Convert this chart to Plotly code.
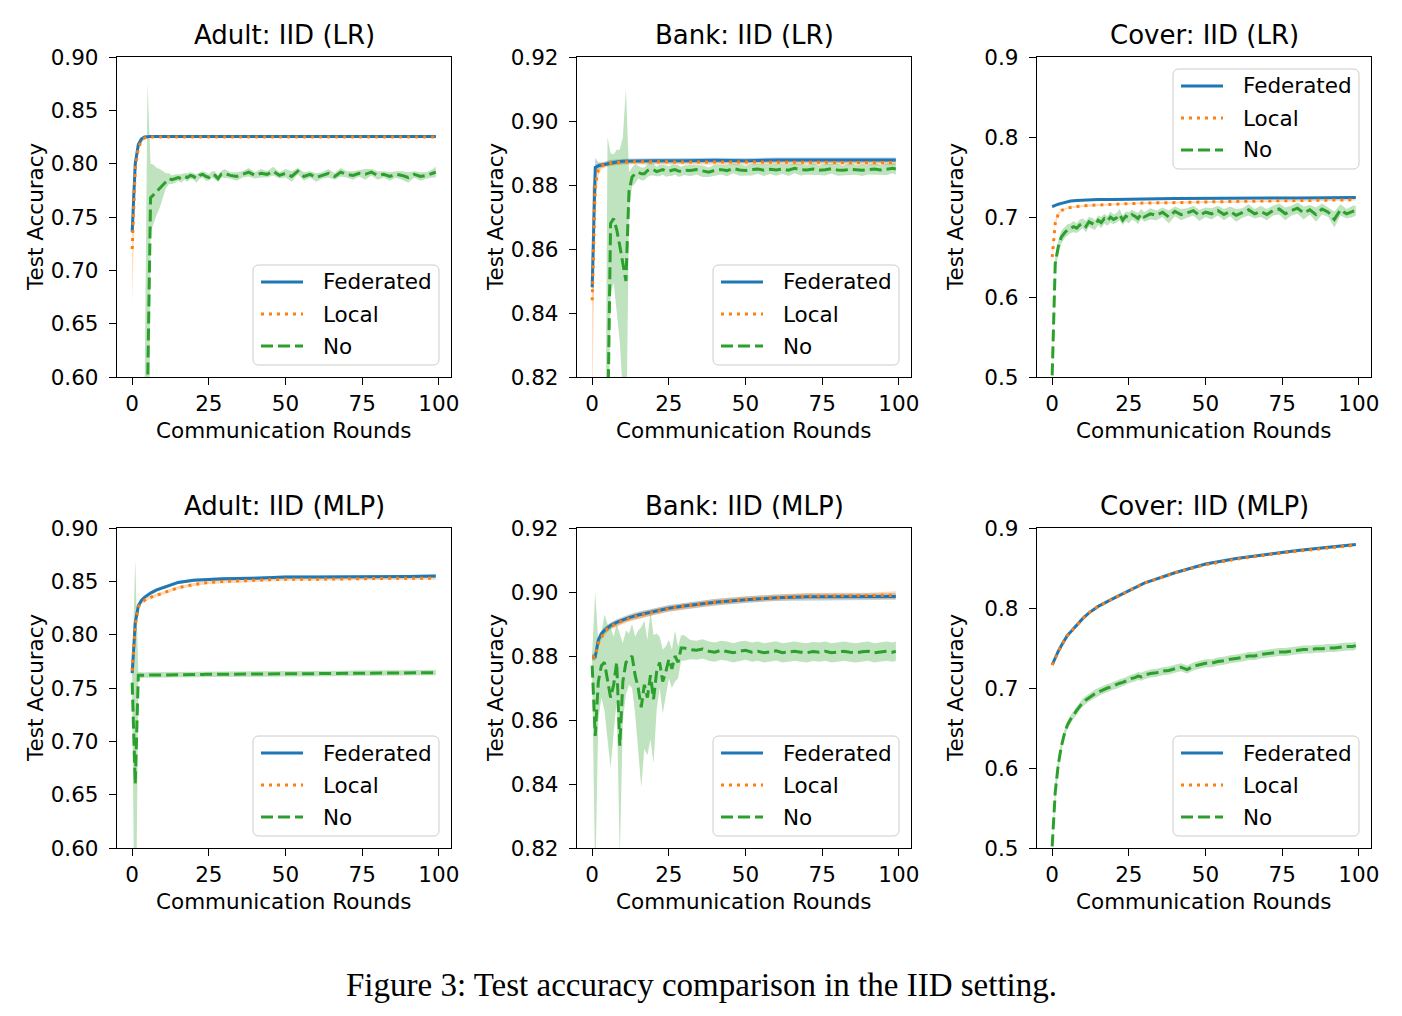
import plotly.graph_objects as go

# ---------------- data ----------------
FL_ROUNDS = [0, 1, 2, 3, 4, 5, 6, 8, 10, 12, 15, 20, 25, 30, 40, 50, 60, 70, 80, 90, 99]
NO_ROUNDS = list(range(0, 30)) + list(range(30, 99, 2)) + [99]
X_TICKS = [0, 25, 50, 75, 100]

TITLES = ["Adult: IID (LR)", "Bank: IID (LR)", "Cover: IID (LR)",
          "Adult: IID (MLP)", "Bank: IID (MLP)", "Cover: IID (MLP)"]
SERIES_NAMES = ["Federated", "Local", "No"]

# Adult LR
ADULT_LR_FED = [0.736, 0.800, 0.818, 0.823, 0.825, 0.8255, 0.8255, 0.8255, 0.8255, 0.8255, 0.8255,
                0.8255, 0.826, 0.8255, 0.8255, 0.8255, 0.8255, 0.826, 0.8255, 0.8255, 0.8255]
ADULT_LR_FED_SD = [0.004, 0.003, 0.002, 0.001, 0.001, 0.001, 0.001, 0.001, 0.001, 0.001, 0.001,
                   0.001, 0.001, 0.001, 0.001, 0.001, 0.001, 0.001, 0.001, 0.001, 0.001]
ADULT_LR_LOC = [0.720, 0.795, 0.815, 0.821, 0.824, 0.825, 0.825, 0.825, 0.825, 0.825, 0.825,
                0.825, 0.825, 0.825, 0.825, 0.825, 0.825, 0.825, 0.825, 0.825, 0.825]
ADULT_LR_LOC_SD = [0.05, 0.01, 0.003, 0.002, 0.001, 0.001, 0.001, 0.001, 0.001, 0.001, 0.001,
                   0.001, 0.001, 0.001, 0.001, 0.001, 0.001, 0.001, 0.001, 0.001, 0.001]
ADULT_LR_NO = [0.30, 0.32, 0.35, 0.40, 0.45, 0.585, 0.768, 0.771, 0.774, 0.777,
               0.780, 0.784, 0.786, 0.785, 0.786, 0.787, 0.786, 0.788, 0.787, 0.789,
               0.788, 0.786, 0.789, 0.790, 0.788, 0.787, 0.790, 0.789, 0.786, 0.790,
               0.791, 0.789, 0.788, 0.790, 0.792, 0.789, 0.791, 0.790, 0.793, 0.789,
               0.791, 0.788, 0.793, 0.788, 0.790, 0.787, 0.789, 0.791, 0.788, 0.792,
               0.790, 0.789, 0.791, 0.790, 0.792, 0.789, 0.790, 0.788, 0.790, 0.789,
               0.787, 0.790, 0.788, 0.789, 0.791, 0.792]
ADULT_LR_NO_SD = [0.10, 0.10, 0.10, 0.10, 0.12, 0.29, 0.032, 0.028, 0.022, 0.018,
                  0.013, 0.007, 0.005, 0.004, 0.004, 0.003, 0.004, 0.003, 0.004, 0.003,
                  0.003, 0.004, 0.003, 0.003, 0.004, 0.003, 0.003, 0.004, 0.003, 0.003,
                  0.004, 0.003, 0.004, 0.003, 0.004, 0.003, 0.004, 0.003, 0.004, 0.003,
                  0.004, 0.005, 0.003, 0.004, 0.003, 0.004, 0.003, 0.004, 0.003, 0.004,
                  0.003, 0.004, 0.003, 0.005, 0.003, 0.004, 0.003, 0.004, 0.003, 0.004,
                  0.005, 0.003, 0.004, 0.003, 0.004, 0.005]

# Bank LR
BANK_LR_FED = [0.848, 0.8855, 0.886, 0.8862, 0.8865, 0.8868, 0.887, 0.8872, 0.8874, 0.8875, 0.8875,
               0.8876, 0.8875, 0.8876, 0.8877, 0.8876, 0.8878, 0.8878, 0.8877, 0.8877, 0.8878]
BANK_LR_FED_SD = [0.006, 0.003, 0.001, 0.0008, 0.0008, 0.0008, 0.0008, 0.0008, 0.0008, 0.0008, 0.0008,
                  0.0008, 0.0008, 0.0008, 0.0008, 0.0008, 0.0008, 0.0008, 0.0008, 0.0008, 0.0008]
BANK_LR_LOC = [0.844, 0.8795, 0.885, 0.886, 0.8863, 0.8866, 0.8868, 0.887, 0.8872, 0.8873, 0.8873,
               0.8872, 0.8872, 0.8872, 0.8872, 0.8872, 0.8871, 0.8871, 0.8871, 0.8871, 0.887]
BANK_LR_LOC_SD = [0.035, 0.006, 0.002, 0.001, 0.0008, 0.0008, 0.0008, 0.0008, 0.0008, 0.0008, 0.0008,
                  0.0008, 0.0008, 0.0008, 0.0008, 0.0008, 0.0008, 0.0008, 0.0008, 0.0008, 0.0008]
BANK_LR_NO = [0.50, 0.55, 0.60, 0.65, 0.70, 0.80, 0.868, 0.8695, 0.866, 0.861,
              0.855, 0.850, 0.878, 0.8825, 0.8835, 0.884, 0.8835, 0.8835, 0.8845, 0.885,
              0.8848, 0.8842, 0.8845, 0.8848, 0.8844, 0.8843, 0.8846, 0.8848, 0.8844, 0.8842,
              0.8846, 0.8845, 0.8848, 0.8843, 0.8840, 0.8846, 0.8848, 0.8845, 0.8852, 0.8847,
              0.8845, 0.8848, 0.8850, 0.8846, 0.8849, 0.8847, 0.8850, 0.8846, 0.8852, 0.8848,
              0.8847, 0.8850, 0.8846, 0.8848, 0.8851, 0.8847, 0.8846, 0.8849, 0.8847, 0.8846,
              0.8848, 0.8850, 0.8847, 0.8849, 0.8852, 0.8850]
BANK_LR_NO_SD = [0.05, 0.05, 0.05, 0.05, 0.05, 0.095, 0.022, 0.02, 0.025, 0.03,
                 0.04, 0.06, 0.006, 0.003, 0.003, 0.002, 0.002, 0.002, 0.002, 0.002,
                 0.0018, 0.0015, 0.0018, 0.0015, 0.0018, 0.0015, 0.0018, 0.0015, 0.0018, 0.0015,
                 0.0015, 0.0018, 0.0015, 0.0018, 0.0015, 0.0018, 0.0015, 0.0018, 0.0015, 0.0018,
                 0.0015, 0.0018, 0.0015, 0.0018, 0.0015, 0.0018, 0.0015, 0.0018, 0.0015, 0.0018,
                 0.0015, 0.0018, 0.0015, 0.0018, 0.0015, 0.0018, 0.0015, 0.0018, 0.0015, 0.0018,
                 0.0015, 0.0018, 0.0015, 0.0018, 0.0015, 0.0018]

# Cover LR
COVER_LR_FED = [0.713, 0.715, 0.716, 0.717, 0.718, 0.719, 0.720, 0.7205, 0.721, 0.7215, 0.722,
                0.722, 0.7225, 0.7225, 0.723, 0.723, 0.7235, 0.7235, 0.7238, 0.724, 0.7245]
COVER_LR_FED_SD = [0.002, 0.0015, 0.0012, 0.001, 0.001, 0.001, 0.001, 0.001, 0.001, 0.001, 0.001,
                   0.001, 0.001, 0.001, 0.001, 0.001, 0.001, 0.001, 0.001, 0.001, 0.001]
COVER_LR_LOC = [0.650, 0.692, 0.704, 0.708, 0.710, 0.711, 0.712, 0.713, 0.714, 0.7145, 0.715,
                0.716, 0.717, 0.7175, 0.718, 0.719, 0.7195, 0.720, 0.7205, 0.721, 0.7215]
COVER_LR_LOC_SD = [0.004, 0.003, 0.002, 0.001, 0.001, 0.001, 0.001, 0.001, 0.001, 0.001, 0.001,
                   0.001, 0.001, 0.001, 0.001, 0.001, 0.001, 0.001, 0.001, 0.001, 0.001]
COVER_LR_NO = [0.502, 0.642, 0.663, 0.675, 0.680, 0.684, 0.686, 0.688, 0.686, 0.690,
               0.692, 0.688, 0.694, 0.692, 0.690, 0.696, 0.693, 0.698, 0.695, 0.700,
               0.697, 0.699, 0.703, 0.696, 0.701, 0.699, 0.703, 0.701, 0.698, 0.704,
               0.700, 0.704, 0.702, 0.706, 0.700, 0.707, 0.703, 0.705, 0.708, 0.702,
               0.706, 0.704, 0.708, 0.703, 0.707, 0.702, 0.705, 0.709, 0.704, 0.707,
               0.703, 0.708, 0.710, 0.704, 0.708, 0.711, 0.705, 0.709, 0.703, 0.710,
               0.706, 0.697, 0.709, 0.704, 0.707, 0.708]
COVER_LR_NO_SD = [0.005, 0.010, 0.008, 0.008, 0.007, 0.007, 0.006, 0.007, 0.006, 0.007,
                  0.006, 0.007, 0.006, 0.007, 0.006, 0.006, 0.007, 0.006, 0.006, 0.007,
                  0.006, 0.006, 0.007, 0.006, 0.006, 0.007, 0.006, 0.006, 0.007, 0.006,
                  0.006, 0.007, 0.006, 0.006, 0.008, 0.006, 0.007, 0.006, 0.006, 0.007,
                  0.006, 0.007, 0.006, 0.007, 0.006, 0.008, 0.006, 0.007, 0.006, 0.007,
                  0.007, 0.006, 0.007, 0.008, 0.006, 0.007, 0.008, 0.006, 0.009, 0.007,
                  0.006, 0.010, 0.007, 0.006, 0.007, 0.006]

# Adult MLP
ADULT_MLP_FED = [0.764, 0.811, 0.827, 0.832, 0.835, 0.837, 0.839, 0.842, 0.844, 0.846, 0.849,
                 0.851, 0.852, 0.8525, 0.853, 0.854, 0.854, 0.854, 0.8545, 0.8545, 0.855]
ADULT_MLP_FED_SD = [0.003, 0.002, 0.0015, 0.0015, 0.0015, 0.0015, 0.0015, 0.0015, 0.0015, 0.0015, 0.0015,
                    0.0015, 0.0015, 0.0015, 0.0015, 0.0015, 0.0015, 0.0015, 0.0015, 0.0015, 0.0015]
ADULT_MLP_LOC = [0.766, 0.808, 0.826, 0.830, 0.832, 0.834, 0.835, 0.837, 0.839, 0.841, 0.844,
                 0.847, 0.849, 0.850, 0.851, 0.852, 0.852, 0.8525, 0.8525, 0.853, 0.853]
ADULT_MLP_LOC_SD = [0.003, 0.002, 0.0015, 0.0015, 0.0015, 0.0015, 0.0015, 0.0015, 0.0015, 0.0015, 0.0015,
                    0.0015, 0.0015, 0.0015, 0.0015, 0.0015, 0.0015, 0.0015, 0.0015, 0.0015, 0.0015]
ADULT_MLP_NO = [0.755, 0.660, 0.762, 0.762, 0.762, 0.7622, 0.7622, 0.7622, 0.7623, 0.7623,
                0.7623, 0.7624, 0.7624, 0.7624, 0.7625, 0.7625, 0.7625, 0.7626, 0.7626, 0.7626,
                0.7626, 0.7627, 0.7627, 0.7627, 0.7628, 0.7628, 0.7628, 0.7628, 0.7629, 0.7629,
                0.7629, 0.7630, 0.7630, 0.7630, 0.7631, 0.7631, 0.7632, 0.7632, 0.7632, 0.7633,
                0.7633, 0.7633, 0.7634, 0.7634, 0.7635, 0.7635, 0.7635, 0.7636, 0.7636, 0.7637,
                0.7637, 0.7638, 0.7638, 0.7639, 0.7639, 0.7640, 0.7640, 0.7640, 0.7641, 0.7641,
                0.7642, 0.7642, 0.7643, 0.7643, 0.7644, 0.7644]
ADULT_MLP_NO_SD = [0.010, 0.21, 0.003, 0.0025, 0.0025, 0.0025, 0.0025, 0.0025, 0.0025, 0.0025,
                   0.0025, 0.0025, 0.0025, 0.0025, 0.0025, 0.0025, 0.0025, 0.0025, 0.0025, 0.0025,
                   0.0025, 0.0025, 0.0025, 0.0025, 0.0025, 0.0025, 0.0025, 0.0025, 0.0025, 0.0025,
                   0.0025, 0.0025, 0.0025, 0.0025, 0.0025, 0.0025, 0.0025, 0.0025, 0.0025, 0.0025,
                   0.0025, 0.0025, 0.0025, 0.0025, 0.0025, 0.0025, 0.0025, 0.0025, 0.0025, 0.0025,
                   0.0025, 0.0025, 0.0025, 0.0025, 0.0025, 0.0025, 0.0025, 0.0025, 0.0025, 0.0025,
                   0.0025, 0.0025, 0.0025, 0.0025, 0.0025, 0.0025]

# Bank MLP
BANK_MLP_FED = [0.8796, 0.8797, 0.885, 0.887, 0.888, 0.8888, 0.8895, 0.8905, 0.8913, 0.892, 0.8928,
                0.8938, 0.8949, 0.8956, 0.8968, 0.8976, 0.8982, 0.8985, 0.8985, 0.8985, 0.8986]
BANK_MLP_FED_SD = [0.001, 0.001, 0.001, 0.001, 0.001, 0.001, 0.001, 0.001, 0.001, 0.001, 0.001,
                   0.001, 0.001, 0.001, 0.001, 0.001, 0.001, 0.001, 0.001, 0.001, 0.001]
BANK_MLP_LOC = [0.8796, 0.8797, 0.884, 0.886, 0.8875, 0.8885, 0.8892, 0.8902, 0.891, 0.8917, 0.8926,
                0.8937, 0.8948, 0.8955, 0.8968, 0.8977, 0.8983, 0.8987, 0.8988, 0.8988, 0.899]
BANK_MLP_LOC_SD = [0.001, 0.001, 0.001, 0.001, 0.001, 0.001, 0.001, 0.001, 0.001, 0.001, 0.001,
                   0.001, 0.001, 0.001, 0.001, 0.001, 0.001, 0.001, 0.001, 0.001, 0.0012]
BANK_MLP_NO = [0.877, 0.855, 0.872, 0.877, 0.878, 0.872, 0.867, 0.871, 0.878, 0.852,
               0.872, 0.878, 0.879, 0.880, 0.874, 0.870, 0.864, 0.871, 0.867, 0.874,
               0.8665, 0.875, 0.878, 0.872, 0.875, 0.879, 0.876, 0.880, 0.878, 0.8825,
               0.8825, 0.882, 0.8818, 0.8822, 0.8815, 0.8812, 0.8818, 0.8815, 0.881, 0.8815,
               0.8818, 0.8812, 0.8815, 0.881, 0.8813, 0.8816, 0.881, 0.8812, 0.8815, 0.8812,
               0.881, 0.8814, 0.8812, 0.8815, 0.881, 0.8812, 0.8815, 0.8812, 0.881, 0.8813,
               0.8815, 0.881, 0.8812, 0.8815, 0.8812, 0.8815]
BANK_MLP_NO_SD = [0.004, 0.045, 0.012, 0.010, 0.015, 0.018, 0.022, 0.015, 0.012, 0.035,
                  0.012, 0.010, 0.008, 0.010, 0.012, 0.018, 0.025, 0.020, 0.018, 0.020,
                  0.020, 0.012, 0.008, 0.010, 0.008, 0.006, 0.006, 0.008, 0.005, 0.004,
                  0.004, 0.003, 0.003, 0.003, 0.003, 0.003, 0.003, 0.003, 0.003, 0.003,
                  0.003, 0.003, 0.003, 0.003, 0.003, 0.003, 0.003, 0.003, 0.003, 0.003,
                  0.003, 0.003, 0.003, 0.003, 0.003, 0.003, 0.003, 0.003, 0.003, 0.003,
                  0.003, 0.003, 0.003, 0.003, 0.003, 0.003]

# Cover MLP
COVER_MLP_FED = [0.729, 0.738, 0.746, 0.753, 0.760, 0.766, 0.770, 0.779, 0.787, 0.794, 0.802,
                 0.812, 0.822, 0.831, 0.844, 0.855, 0.862, 0.867, 0.872, 0.876, 0.8795]
COVER_MLP_FED_SD = [0.001, 0.001, 0.001, 0.001, 0.001, 0.001, 0.001, 0.001, 0.001, 0.001, 0.001,
                    0.001, 0.001, 0.001, 0.001, 0.001, 0.001, 0.001, 0.001, 0.001, 0.001]
COVER_MLP_LOC = [0.729, 0.738, 0.746, 0.753, 0.760, 0.766, 0.770, 0.779, 0.787, 0.794, 0.802,
                 0.812, 0.822, 0.831, 0.844, 0.854, 0.861, 0.8665, 0.871, 0.875, 0.8785]
COVER_MLP_LOC_SD = [0.001, 0.001, 0.001, 0.001, 0.001, 0.001, 0.001, 0.001, 0.001, 0.001, 0.001,
                    0.001, 0.001, 0.001, 0.001, 0.001, 0.001, 0.001, 0.001, 0.001, 0.001]
COVER_MLP_NO = [0.502, 0.570, 0.605, 0.627, 0.643, 0.654, 0.661, 0.667, 0.672, 0.677,
                0.682, 0.685, 0.688, 0.690, 0.693, 0.695, 0.697, 0.698, 0.700, 0.701,
                0.703, 0.704, 0.706, 0.707, 0.709, 0.711, 0.712, 0.713, 0.715, 0.714,
                0.716, 0.718, 0.719, 0.721, 0.722, 0.724, 0.726, 0.723, 0.727, 0.729,
                0.731, 0.731, 0.733, 0.734, 0.736, 0.737, 0.738, 0.740, 0.740, 0.742,
                0.743, 0.744, 0.745, 0.745, 0.746, 0.747, 0.748, 0.748, 0.749, 0.749,
                0.750, 0.750, 0.751, 0.752, 0.752, 0.753]
COVER_MLP_NO_SD = [0.005, 0.012, 0.008, 0.006, 0.005, 0.005, 0.005, 0.005, 0.005, 0.005,
                   0.005, 0.005, 0.005, 0.005, 0.005, 0.005, 0.005, 0.005, 0.005, 0.005,
                   0.005, 0.005, 0.005, 0.005, 0.005, 0.005, 0.005, 0.005, 0.005, 0.005,
                   0.005, 0.005, 0.005, 0.005, 0.005, 0.005, 0.005, 0.005, 0.005, 0.005,
                   0.005, 0.005, 0.005, 0.005, 0.005, 0.005, 0.005, 0.005, 0.005, 0.005,
                   0.005, 0.005, 0.005, 0.005, 0.005, 0.005, 0.005, 0.005, 0.005, 0.005,
                   0.005, 0.005, 0.005, 0.005, 0.005, 0.005]

Y_TICKS_ADULT = [0.60, 0.65, 0.70, 0.75, 0.80, 0.85, 0.90]
Y_TICKS_BANK = [0.82, 0.84, 0.86, 0.88, 0.90, 0.92]
Y_TICKS_COVER = [0.5, 0.6, 0.7, 0.8, 0.9]

# ---------------- layout helpers ----------------
W, H = 1402, 1016
COLS = [(117, 451), (577, 911), (1037, 1371)]
ROWS = [(57, 377), (528, 848)]
BLUE, ORANGE, GREEN = "#1f77b4", "#ff7f0e", "#2ca02c"
FONT = "DejaVu Sans"
FS = 21.5
LINE_STYLES = [dict(color=BLUE, width=3),
               dict(color=ORANGE, width=3, dash="3px,5px"),
               dict(color=GREEN, width=3, dash="12px,5px")]

panels = [
    (ADULT_LR_FED, ADULT_LR_FED_SD, ADULT_LR_LOC, ADULT_LR_LOC_SD, ADULT_LR_NO, ADULT_LR_NO_SD,
     Y_TICKS_ADULT, "%.2f", "bottom"),
    (BANK_LR_FED, BANK_LR_FED_SD, BANK_LR_LOC, BANK_LR_LOC_SD, BANK_LR_NO, BANK_LR_NO_SD,
     Y_TICKS_BANK, "%.2f", "bottom"),
    (COVER_LR_FED, COVER_LR_FED_SD, COVER_LR_LOC, COVER_LR_LOC_SD, COVER_LR_NO, COVER_LR_NO_SD,
     Y_TICKS_COVER, "%.1f", "top"),
    (ADULT_MLP_FED, ADULT_MLP_FED_SD, ADULT_MLP_LOC, ADULT_MLP_LOC_SD, ADULT_MLP_NO, ADULT_MLP_NO_SD,
     Y_TICKS_ADULT, "%.2f", "bottom"),
    (BANK_MLP_FED, BANK_MLP_FED_SD, BANK_MLP_LOC, BANK_MLP_LOC_SD, BANK_MLP_NO, BANK_MLP_NO_SD,
     Y_TICKS_BANK, "%.2f", "bottom"),
    (COVER_MLP_FED, COVER_MLP_FED_SD, COVER_MLP_LOC, COVER_MLP_LOC_SD, COVER_MLP_NO, COVER_MLP_NO_SD,
     Y_TICKS_COVER, "%.1f", "bottom"),
]


def PX(x):
    return x / W


def PY(y):
    return 1 - y / H


def band(x, m, s, color, xa, ya):
    up = [a + b for a, b in zip(m, s)]
    lo = [a - b for a, b in zip(m, s)]
    return go.Scatter(x=list(x) + list(x)[::-1], y=up + lo[::-1], fill="toself",
                      fillcolor=color, line=dict(width=0), mode="lines",
                      hoverinfo="skip", showlegend=False, xaxis=xa, yaxis=ya)


def rounded_rect(x0, y0, x1, y1, r=6):
    pts = [
        f"M{PX(x0 + r)},{PY(y0)}", f"L{PX(x1 - r)},{PY(y0)}",
        f"Q{PX(x1)},{PY(y0)} {PX(x1)},{PY(y0 + r)}", f"L{PX(x1)},{PY(y1 - r)}",
        f"Q{PX(x1)},{PY(y1)} {PX(x1 - r)},{PY(y1)}", f"L{PX(x0 + r)},{PY(y1)}",
        f"Q{PX(x0)},{PY(y1)} {PX(x0)},{PY(y1 - r)}", f"L{PX(x0)},{PY(y0 + r)}",
        f"Q{PX(x0)},{PY(y0)} {PX(x0 + r)},{PY(y0)}", "Z"]
    return " ".join(pts)


fig = go.Figure()
annotations = []
shapes = []
layout = dict(width=W, height=H, margin=dict(l=0, r=0, t=0, b=0, autoexpand=False),
              paper_bgcolor="white", plot_bgcolor="white", showlegend=False,
              font=dict(family=FONT, size=FS, color="black"))

for i, (fed, fed_sd, loc, loc_sd, no, no_sd, yt, fmt, lpos) in enumerate(panels):
    r, c = divmod(i, 3)
    sfx = "" if i == 0 else str(i + 1)
    xa, ya = "x" + sfx, "y" + sfx
    x0, x1 = COLS[c]
    y0, y1 = ROWS[r]

    fig.add_trace(band(FL_ROUNDS, fed, fed_sd, "rgba(31,119,180,0.3)", xa, ya))
    fig.add_trace(band(FL_ROUNDS, loc, loc_sd, "rgba(255,127,14,0.3)", xa, ya))
    fig.add_trace(band(NO_ROUNDS, no, no_sd, "rgba(44,160,44,0.3)", xa, ya))
    for name, xs, ys, st in [(SERIES_NAMES[0], FL_ROUNDS, fed, LINE_STYLES[0]),
                             (SERIES_NAMES[1], FL_ROUNDS, loc, LINE_STYLES[1]),
                             (SERIES_NAMES[2], NO_ROUNDS, no, LINE_STYLES[2])]:
        fig.add_trace(go.Scatter(x=xs, y=ys, mode="lines", name=name, line=st,
                                 xaxis=xa, yaxis=ya, showlegend=False))

    axcommon = dict(showline=True, mirror=True, linecolor="black", linewidth=1.3,
                    showgrid=False, zeroline=False, ticks="outside", ticklen=7,
                    tickwidth=1.3, tickcolor="black", automargin=False,
                    tickfont=dict(family=FONT, size=FS, color="black"))
    layout["xaxis" + sfx] = dict(axcommon, domain=[PX(x0), PX(x1)], range=[-4.95, 103.95],
                                 tickvals=X_TICKS, ticktext=[str(v) for v in X_TICKS],
                                 anchor=ya, ticklabelstandoff=0)
    layout["yaxis" + sfx] = dict(axcommon, domain=[PY(y1), PY(y0)],
                                 range=[yt[0], yt[-1]], tickvals=yt,
                                 ticktext=[fmt % v for v in yt], anchor=xa,
                                 ticklabelstandoff=6)

    cx = PX((x0 + x1) / 2)
    annotations.append(dict(text=TITLES[i], x=cx, y=PY(y0 - 22), xref="paper",
                            yref="paper", showarrow=False, xanchor="center",
                            yanchor="middle", font=dict(family=FONT, size=26)))
    annotations.append(dict(text="Communication Rounds", x=cx, y=PY(y1 + 53),
                            xref="paper", yref="paper", showarrow=False,
                            xanchor="center", yanchor="middle",
                            font=dict(family=FONT, size=FS)))
    annotations.append(dict(text="Test Accuracy", x=PX(x0 - 82), y=PY((y0 + y1) / 2),
                            xref="paper", yref="paper", showarrow=False, textangle=-90,
                            xanchor="center", yanchor="middle",
                            font=dict(family=FONT, size=FS)))

    # legend (drawn by hand to match matplotlib's look)
    bx0, bx1 = x0 + 136, x1 - 12
    if lpos == "top":
        by0 = y0 + 12
    else:
        by0 = y1 - 112
    by1 = by0 + 100
    shapes.append(dict(type="path", path=rounded_rect(bx0, by0, bx1, by1), xref="paper",
                       yref="paper", fillcolor="rgba(255,255,255,0.8)",
                       line=dict(color="#cccccc", width=1), layer="above"))
    for k, name in enumerate(SERIES_NAMES):
        ry = by0 + 17 + 32 * k
        st = LINE_STYLES[k]
        shapes.append(dict(type="line", x0=PX(bx0 + 8), x1=PX(bx0 + 50), y0=PY(ry), y1=PY(ry),
                           xref="paper", yref="paper", layer="above",
                           line=dict(color=st["color"], width=3, dash=st.get("dash", "solid"))))
        annotations.append(dict(text=name, x=PX(bx0 + 68), y=PY(ry), xref="paper",
                                yref="paper", showarrow=False, xanchor="left",
                                yanchor="middle", font=dict(family=FONT, size=FS)))

annotations.append(dict(text="Figure 3: Test accuracy comparison in the IID setting.",
                        x=0.5, y=PY(985), xref="paper", yref="paper",
                        showarrow=False, xanchor="center", yanchor="middle",
                        font=dict(family="Liberation Serif", size=33, color="black")))

layout["annotations"] = annotations
layout["shapes"] = shapes
fig.update_layout(**layout)
fig.write_html("out.html")
